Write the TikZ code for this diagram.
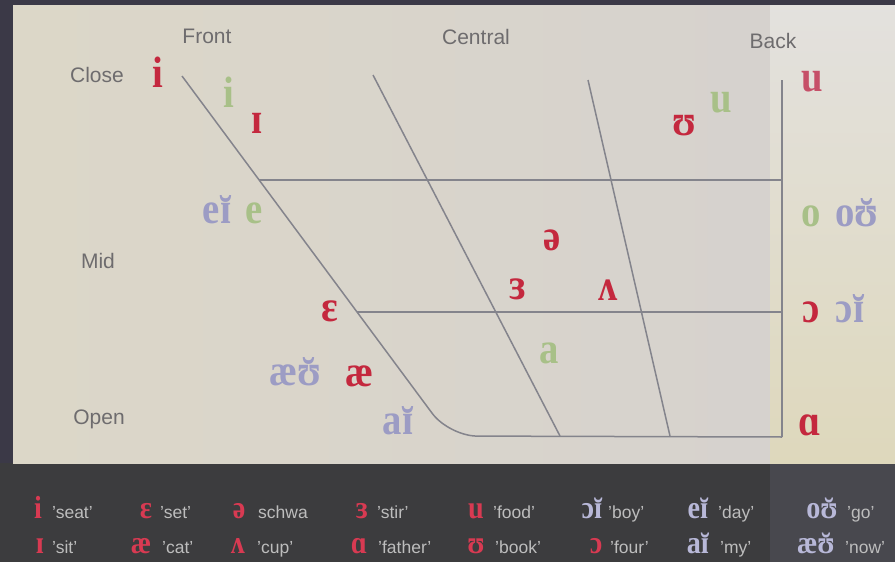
\documentclass[tikz,border=0pt]{standalone}
\usepackage{fontspec}
\setmainfont{Liberation Sans}
\newfontfamily\ipafont[FakeStretch=0.88]{Liberation Serif}
\newcommand\withbreve[1]{\ooalign{#1\cr\hidewidth\raisebox{-0.08em}{˘}\hidewidth\cr}}
\definecolor{framecol}{HTML}{3B3947}
\definecolor{legdark}{HTML}{3C3C3E}
\definecolor{legright}{HTML}{48484E}
\definecolor{panelL}{HTML}{DCD7C8}
\definecolor{panelM}{HTML}{D9D4CE}
\definecolor{panelR}{HTML}{D6D2CE}
\definecolor{stripT}{HTML}{E3E1DE}
\definecolor{stripB}{HTML}{DED8BC}
\definecolor{linegray}{HTML}{84848C}
\definecolor{labelgray}{HTML}{6E6C6E}
\definecolor{ipared}{HTML}{C4283E}
\definecolor{ipapink}{HTML}{C65068}
\definecolor{ipagreen}{HTML}{A8C088}
\definecolor{ipalav}{HTML}{9C9CC4}
\definecolor{legred}{HTML}{D83A52}
\definecolor{leglav}{HTML}{B8B8D8}
\definecolor{legtext}{HTML}{BDBDBD}
\tikzset{
  chartline/.style={draw=linegray, line width=1.5pt},
  sym/.style={inner sep=0pt, anchor=base, font=\ipafont\bfseries\fontsize{44}{48}\selectfont},
  lsym/.style={inner sep=0pt, anchor=base, font=\ipafont\bfseries\fontsize{32}{36}\selectfont},
  axislabel/.style={inner sep=0pt, anchor=base, text=labelgray, font=\fontsize{21}{24}\selectfont},
  ltext/.style={inner sep=0pt, anchor=base west, text=legtext, font=\fontsize{17.5}{20}\selectfont},
}
\begin{document}
\begin{tikzpicture}[x=1pt,y=-1pt]
\useasboundingbox (0,0) rectangle (895,562);
% background
\fill[framecol] (0,0) rectangle (895,562);
\fill[legdark] (0,463) rectangle (895,562);
\fill[legright] (770,463) rectangle (895,562);
\shade[left color=panelL, middle color=panelM, right color=panelR] (13,5) rectangle (770,463);
\shade[top color=stripT, bottom color=stripB] (770,5) rectangle (895,463);

% chart coordinates
\coordinate (fT) at (182,76);
\coordinate (fA) at (259,180);
\coordinate (fB) at (357,312);
\coordinate (fC) at (449,436);
\coordinate (bT) at (782,80);
\coordinate (bA) at (782,180);
\coordinate (bB) at (782,312);
\coordinate (bC) at (782,437);
\coordinate (c1T) at (373,75);
\coordinate (c1B) at (560,436);
\coordinate (c2T) at (588,80);
\coordinate (c2B) at (670,436);

% chart lines
\draw[chartline, rounded corners=28pt] (fT) -- (fC) -- (bC);
\draw[chartline] (bT) -- (bC);
\draw[chartline] (fA) -- (bA);
\draw[chartline] (fB) -- (bB);
\draw[chartline] (c1T) -- (c1B);
\draw[chartline] (c2T) -- (c2B);

% axis labels
\node[axislabel] (front) at (207,43) {Front};
\node[axislabel] (central) at (476,45) {Central};
\node[axislabel] (back) at (773,48) {Back};
\node[axislabel] (close) at (97,82) {Close};
\node[axislabel] (mid) at (98,268) {Mid};
\node[axislabel] (open) at (99,424) {Open};

% chart symbols
\node[sym, text=ipared] (s1) at (158,87) {i};
\node[sym, text=ipagreen] (s2) at (229,107) {i};
\node[sym, text=ipared] (s3) at (257,133) {ɪ};
\node[sym, text=ipalav] (s4) at (217,223) {e\withbreve{ɪ}};
\node[sym, text=ipagreen] (s5) at (254,223) {e};
\node[sym, text=ipared] (s6) at (330,321) {ɛ};
\node[sym, text=ipalav] (s7) at (295,385) {æ\withbreve{ʊ}};
\node[sym, text=ipared] (s8) at (359,386) {æ};
\node[sym, text=ipalav] (s9) at (398,434) {a\withbreve{ɪ}};
\node[sym, text=ipared] (s10) at (552,250) {ə};
\node[sym, text=ipared] (s11) at (518,299) {ɜ};
\node[sym, text=ipared] (s12) at (608,300) {ʌ};
\node[sym, text=ipagreen] (s13) at (549,363) {a};
\node[sym, text=ipared] (s14) at (684,135) {ʊ};
\node[sym, text=ipagreen] (s15) at (721,112) {u};
\node[sym, text=ipapink] (s16) at (812,91) {u};
\node[sym, text=ipagreen] (s17) at (811,226) {o};
\node[sym, text=ipalav] (s18) at (857,226) {o\withbreve{ʊ}};
\node[sym, text=ipared] (s19) at (811,322) {ɔ};
\node[sym, text=ipalav] (s20) at (850,322) {ɔ\withbreve{ɪ}};
\node[sym, text=ipared] (s21) at (810,435) {ɑ};

% legend row 1
\node[lsym, text=legred] (l1) at (38,518) {i};
\node[ltext] (t1) at (52,518) {'seat'};
\node[lsym, text=legred] (l2) at (146,518) {ɛ};
\node[ltext] (t2) at (160,518) {'set'};
\node[lsym, text=legred] (l3) at (239,518) {ə};
\node[ltext] (t3) at (258,518) {schwa};
\node[lsym, text=legred] (l4) at (362,518) {ɜ};
\node[ltext] (t4) at (377,518) {'stir'};
\node[lsym, text=legred] (l5) at (476,518) {u};
\node[ltext] (t5) at (493,518) {'food'};
\node[lsym, text=leglav] (l6) at (592,518) {ɔ\withbreve{ɪ}};
\node[ltext] (t6) at (608,518) {'boy'};
\node[lsym, text=leglav] (l7) at (698,518) {e\withbreve{ɪ}};
\node[ltext] (t7) at (718,518) {'day'};
\node[lsym, text=leglav] (l8) at (822,518) {o\withbreve{ʊ}};
\node[ltext] (t8) at (847,518) {'go'};
% legend row 2
\node[lsym, text=legred] (l9) at (40,553) {ɪ};
\node[ltext] (t9) at (52,553) {'sit'};
\node[lsym, text=legred] (l10) at (141,553) {æ};
\node[ltext] (t10) at (162,553) {'cat'};
\node[lsym, text=legred] (l11) at (238,553) {ʌ};
\node[ltext] (t11) at (257,553) {'cup'};
\node[lsym, text=legred] (l12) at (359,553) {ɑ};
\node[ltext] (t12) at (378,553) {'father'};
\node[lsym, text=legred] (l13) at (476,553) {ʊ};
\node[ltext] (t13) at (495,553) {'book'};
\node[lsym, text=legred] (l14) at (596,553) {ɔ};
\node[ltext] (t14) at (610,553) {'four'};
\node[lsym, text=leglav] (l15) at (698,553) {a\withbreve{ɪ}};
\node[ltext] (t15) at (720,553) {'my'};
\node[lsym, text=leglav] (l16) at (816,553) {æ\withbreve{ʊ}};
\node[ltext] (t16) at (845,553) {'now'};
\end{tikzpicture}
\end{document}
